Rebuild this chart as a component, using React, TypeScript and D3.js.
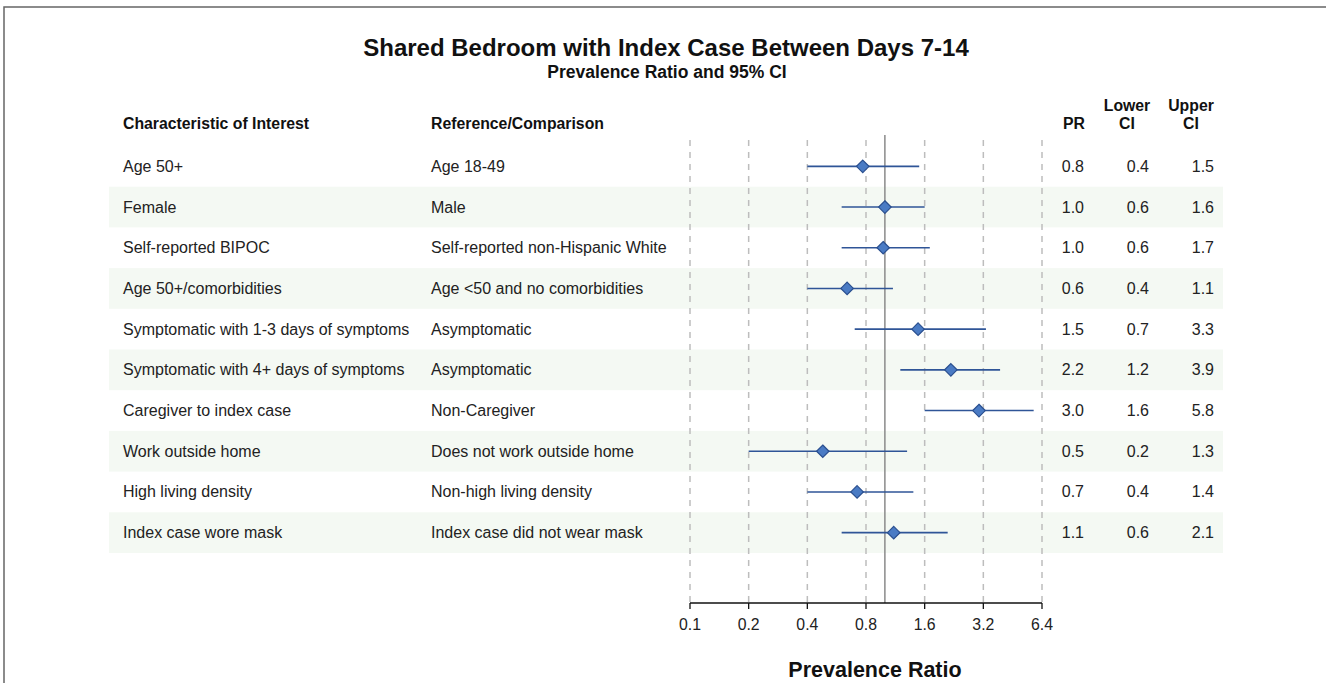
import React from "react";
import * as d3 from "d3";

const characteristics = [
  "Age 50+",
  "Female",
  "Self-reported BIPOC",
  "Age 50+/comorbidities",
  "Symptomatic with 1-3 days of symptoms",
  "Symptomatic with 4+ days of symptoms",
  "Caregiver to index case",
  "Work outside home",
  "High living density",
  "Index case wore mask",
];
const comparisons = [
  "Age 18-49",
  "Male",
  "Self-reported non-Hispanic White",
  "Age <50 and no comorbidities",
  "Asymptomatic",
  "Asymptomatic",
  "Non-Caregiver",
  "Does not work outside home",
  "Non-high living density",
  "Index case did not wear mask",
];
const prValues = [0.77, 1.0, 0.98, 0.64, 1.48, 2.18, 3.04, 0.48, 0.72, 1.11];
const lowerCI = [0.4, 0.6, 0.6, 0.4, 0.7, 1.2, 1.6, 0.2, 0.4, 0.6];
const upperCI = [1.5, 1.6, 1.7, 1.1, 3.3, 3.9, 5.8, 1.3, 1.4, 2.1];
const tickValues = [0.1, 0.2, 0.4, 0.8, 1.6, 3.2, 6.4];

const W = 1326;
const H = 683;
const font = "Liberation Sans, Arial, Helvetica, sans-serif";

export default function App() {
  const x = d3.scaleLog().base(2).domain([0.1, 6.4]).range([690, 1042]);
  const y = d3
    .scaleBand<number>()
    .domain(d3.range(characteristics.length))
    .range([146, 553])
    .padding(0);
  const axisY = 603;
  const diamond = d3.symbol().type(d3.symbolDiamond2).size(100);
  const fs = 16;

  return (
    <div style={{ position: "fixed", left: 0, top: 0 }}>
      <svg width={W} height={H} style={{ display: "block", background: "#fff" }}>
        <rect x={4} y={7} width={W + 20} height={H + 20} fill="none" stroke="#666" strokeWidth={1.5} />

        <text x={666} y={56} textAnchor="middle" fontFamily={font} fontWeight="bold" fontSize={24} fill="#111">
          Shared Bedroom with Index Case Between Days 7-14
        </text>
        <text x={667} y={78} textAnchor="middle" fontFamily={font} fontWeight="bold" fontSize={17.5} fill="#111">
          Prevalence Ratio and 95% CI
        </text>

        {/* headers */}
        <g fontFamily={font} fontWeight="bold" fontSize={15.8} fill="#111">
          <text x={123} y={129}>Characteristic of Interest</text>
          <text x={431} y={129}>Reference/Comparison</text>
          <text x={1085} y={129} textAnchor="end">PR</text>
          <text x={1127} y={111} textAnchor="middle">Lower</text>
          <text x={1127} y={129} textAnchor="middle">CI</text>
          <text x={1191} y={111} textAnchor="middle">Upper</text>
          <text x={1191} y={129} textAnchor="middle">CI</text>
        </g>

        {/* row bands */}
        {characteristics.map((_, i) =>
          i % 2 === 1 ? (
            <rect key={i} x={109} y={y(i)} width={1114} height={y.bandwidth()} fill="#f4f9f3" />
          ) : null
        )}

        {/* grid */}
        {tickValues.map((t) => (
          <line key={t} x1={x(t)} x2={x(t)} y1={140} y2={axisY} stroke="#bdbdbd" strokeWidth={1.5} strokeDasharray="6,6" />
        ))}
        <line x1={x(1)} x2={x(1)} y1={135} y2={axisY} stroke="#8a8a8a" strokeWidth={1.5} />

        {/* axis */}
        <line x1={x(0.1)} x2={x(6.4)} y1={axisY} y2={axisY} stroke="#111" strokeWidth={1.3} />
        {tickValues.map((t) => (
          <g key={"t" + t}>
            <line x1={x(t)} x2={x(t)} y1={axisY} y2={axisY + 6} stroke="#111" strokeWidth={1.3} />
            <text x={x(t)} y={axisY + 27} textAnchor="middle" fontFamily={font} fontSize={15.8} fill="#222">
              {t}
            </text>
          </g>
        ))}
        <text x={875} y={677} textAnchor="middle" fontFamily={font} fontWeight="bold" fontSize={21.5} fill="#111">
          Prevalence Ratio
        </text>

        {/* rows */}
        {characteristics.map((c, i) => {
          const cy = (y(i) as number) + y.bandwidth() / 2;
          return (
            <g key={c + i}>
              <text x={123} y={cy + 5.5} fontFamily={font} fontSize={fs} fill="#222">{c}</text>
              <text x={431} y={cy + 5.5} fontFamily={font} fontSize={fs} fill="#222">{comparisons[i]}</text>
              <line x1={x(lowerCI[i])} x2={x(upperCI[i])} y1={cy} y2={cy} stroke="#2f5597" strokeWidth={1.6} />
              <path d={diamond() as string} transform={`translate(${x(prValues[i])},${cy})`} fill="#4a7bc4" stroke="#2a4f8f" strokeWidth={1.2} />
              <text x={1084} y={cy + 5.5} textAnchor="end" fontFamily={font} fontSize={fs} fill="#222">{prValues[i].toFixed(1)}</text>
              <text x={1149} y={cy + 5.5} textAnchor="end" fontFamily={font} fontSize={fs} fill="#222">{lowerCI[i].toFixed(1)}</text>
              <text x={1214} y={cy + 5.5} textAnchor="end" fontFamily={font} fontSize={fs} fill="#222">{upperCI[i].toFixed(1)}</text>
            </g>
          );
        })}
      </svg>
    </div>
  );
}
